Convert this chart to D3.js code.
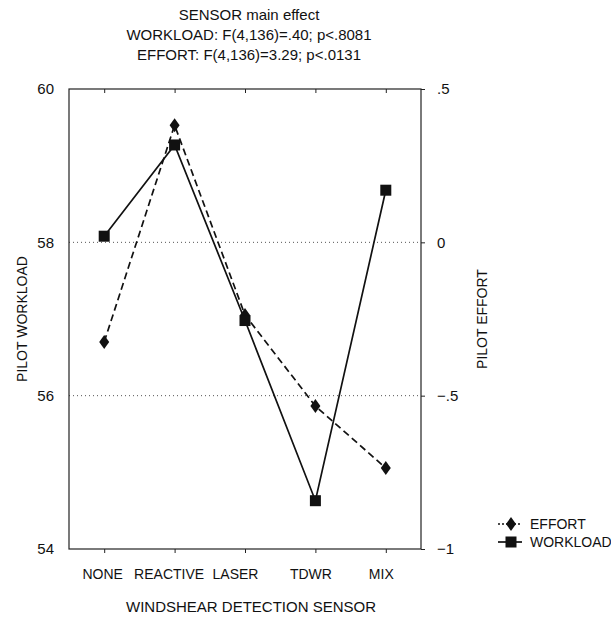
<!DOCTYPE html>
<html>
<head>
<meta charset="utf-8">
<script src="https://cdn.jsdelivr.net/npm/d3@7"></script>
<style>
  html, body { margin: 0; padding: 0; background: #fff; }
  svg { display: block; font-family: "Liberation Sans", Arial, sans-serif; }
</style>
</head>
<body>
<svg id="chart" width="611" height="621"></svg>
<script>
// Sensor conditions along the x axis
const sensors = ["NONE", "REACTIVE", "LASER", "TDWR", "MIX"];
// Mean pilot workload (left axis)
const workload = [58.08, 59.27, 56.98, 54.63, 58.68];
// Mean pilot effort (right axis)
const effort = [-0.325, 0.382, -0.237, -0.534, -0.736];
// Axis ticks
const workloadTicks = [54, 56, 58, 60];
const effortTicks = [-1, -0.5, 0, 0.5];
const effortTickLabels = ["\u22121", "\u2212.5", "0", ".5"];
// Title lines
const titleLines = [
  "SENSOR main effect",
  "WORKLOAD: F(4,136)=.40; p<.8081",
  "EFFORT: F(4,136)=3.29; p<.0131"
];

const svg = d3.select("#chart");
const plotL = 69, plotR = 421, plotT = 89, plotB = 549;
const ink = "#111";

const x = d3.scalePoint().domain(sensors).range([plotL, plotR]).padding(0.5);
const yW = d3.scaleLinear().domain([54, 60]).range([plotB, plotT]);
const yE = d3.scaleLinear().domain([-1, 0.5]).range([plotB, plotT]);

// Dotted reference lines at 58 and 56
svg.append("g").selectAll("line").data([56, 58]).join("line")
  .attr("x1", plotL).attr("x2", plotR)
  .attr("y1", d => yW(d)).attr("y2", d => yW(d))
  .attr("stroke", "#555").attr("stroke-width", 1)
  .attr("stroke-dasharray", "1,3");

// Frame
svg.append("rect")
  .attr("x", plotL).attr("y", plotT)
  .attr("width", plotR - plotL).attr("height", plotB - plotT)
  .attr("fill", "none").attr("stroke", "#222").attr("stroke-width", 1.2);

// Bottom axis; the category labels are hand-spaced, so LASER sits a little left
const labelShift = { NONE: -2, REACTIVE: -6, LASER: -10, TDWR: -5, MIX: -5 };
const xAxis = svg.append("g").attr("transform", `translate(0,${plotB})`)
  .call(d3.axisBottom(x).tickSize(4).tickPadding(16));
xAxis.select(".domain").remove();
xAxis.selectAll("text").attr("font-size", 14).attr("fill", ink)
  .attr("font-family", "Liberation Sans, Arial, sans-serif")
  .attr("dx", d => labelShift[d]);
xAxis.selectAll("line").attr("stroke", "#222");

// Top tick marks
const xTop = svg.append("g").attr("transform", `translate(0,${plotT})`)
  .call(d3.axisBottom(x).tickSize(4).tickFormat(""));
xTop.select(".domain").remove();
xTop.selectAll("line").attr("stroke", "#222");

// Left axis (workload)
const yLeft = svg.append("g").attr("transform", `translate(${plotL},0)`)
  .call(d3.axisLeft(yW).tickValues(workloadTicks).tickSize(0).tickPadding(15).tickFormat(d3.format("d")));
yLeft.select(".domain").remove();
yLeft.selectAll("text").attr("font-size", 15).attr("fill", ink)
  .attr("font-family", "Liberation Sans, Arial, sans-serif");

// Right axis (effort)
const yRight = svg.append("g").attr("transform", `translate(${plotR},0)`)
  .call(d3.axisRight(yE).tickValues(effortTicks).tickSize(4).tickPadding(12)
    .tickFormat(d => effortTickLabels[effortTicks.indexOf(d)]));
yRight.select(".domain").remove();
yRight.selectAll("line").attr("stroke", "#222");
yRight.selectAll("text").attr("font-size", 15).attr("fill", ink)
  .attr("font-family", "Liberation Sans, Arial, sans-serif");

// Axis titles
svg.append("text").attr("x", 251).attr("y", 612).attr("text-anchor", "middle")
  .attr("font-size", 15).attr("fill", ink).text("WINDSHEAR DETECTION SENSOR");
svg.append("text").attr("transform", `translate(22,${(plotT + plotB) / 2}) rotate(-90)`)
  .attr("text-anchor", "middle").attr("dy", "0.35em")
  .attr("font-size", 14).attr("fill", ink).text("PILOT WORKLOAD");
svg.append("text").attr("transform", `translate(482,${(plotT + plotB) / 2}) rotate(-90)`)
  .attr("text-anchor", "middle").attr("dy", "0.35em")
  .attr("font-size", 14).attr("fill", ink).text("PILOT EFFORT");

// Title
svg.append("g").selectAll("text").data(titleLines).join("text")
  .attr("x", 249).attr("y", (d, i) => 20 + i * 20)
  .attr("text-anchor", "middle").attr("font-size", 15).attr("fill", ink)
  .text(d => d);

// Series
const pts = sensors.map((s, i) => ({ s, w: workload[i], e: effort[i] }));
const diamond = "M0,-7L5,0L0,7L-5,0Z";

svg.append("path").datum(pts)
  .attr("d", d3.line().x(d => x(d.s)).y(d => yE(d.e)))
  .attr("fill", "none").attr("stroke", ink).attr("stroke-width", 1.7)
  .attr("stroke-dasharray", "7,4");
svg.append("path").datum(pts)
  .attr("d", d3.line().x(d => x(d.s)).y(d => yW(d.w)))
  .attr("fill", "none").attr("stroke", ink).attr("stroke-width", 1.7);

svg.append("g").selectAll("path").data(pts).join("path")
  .attr("transform", d => `translate(${x(d.s)},${yE(d.e)})`)
  .attr("d", diamond).attr("fill", ink);
svg.append("g").selectAll("rect").data(pts).join("rect")
  .attr("x", d => x(d.s) - 5.5).attr("y", d => yW(d.w) - 5.5)
  .attr("width", 11).attr("height", 11).attr("fill", ink);

// Legend
const legend = svg.append("g").attr("transform", "translate(498,0)");
const legendRows = [
  { label: "EFFORT", y: 524, dash: "2,2", shape: "d" },
  { label: "WORKLOAD", y: 542, dash: null, shape: "s" }
];
legendRows.forEach(r => {
  legend.append("line").attr("x1", 0).attr("x2", 24).attr("y1", r.y).attr("y2", r.y)
    .attr("stroke", ink).attr("stroke-width", 1.7)
    .attr("stroke-dasharray", r.dash);
  if (r.shape === "d") {
    legend.append("path").attr("transform", `translate(13,${r.y})`).attr("d", diamond).attr("fill", ink);
  } else {
    legend.append("rect").attr("x", 7.5).attr("y", r.y - 5.5).attr("width", 11).attr("height", 11).attr("fill", ink);
  }
  legend.append("text").attr("x", 32).attr("y", r.y).attr("dy", "0.36em")
    .attr("font-size", 14).attr("fill", ink).text(r.label);
});
</script>
</body>
</html>
